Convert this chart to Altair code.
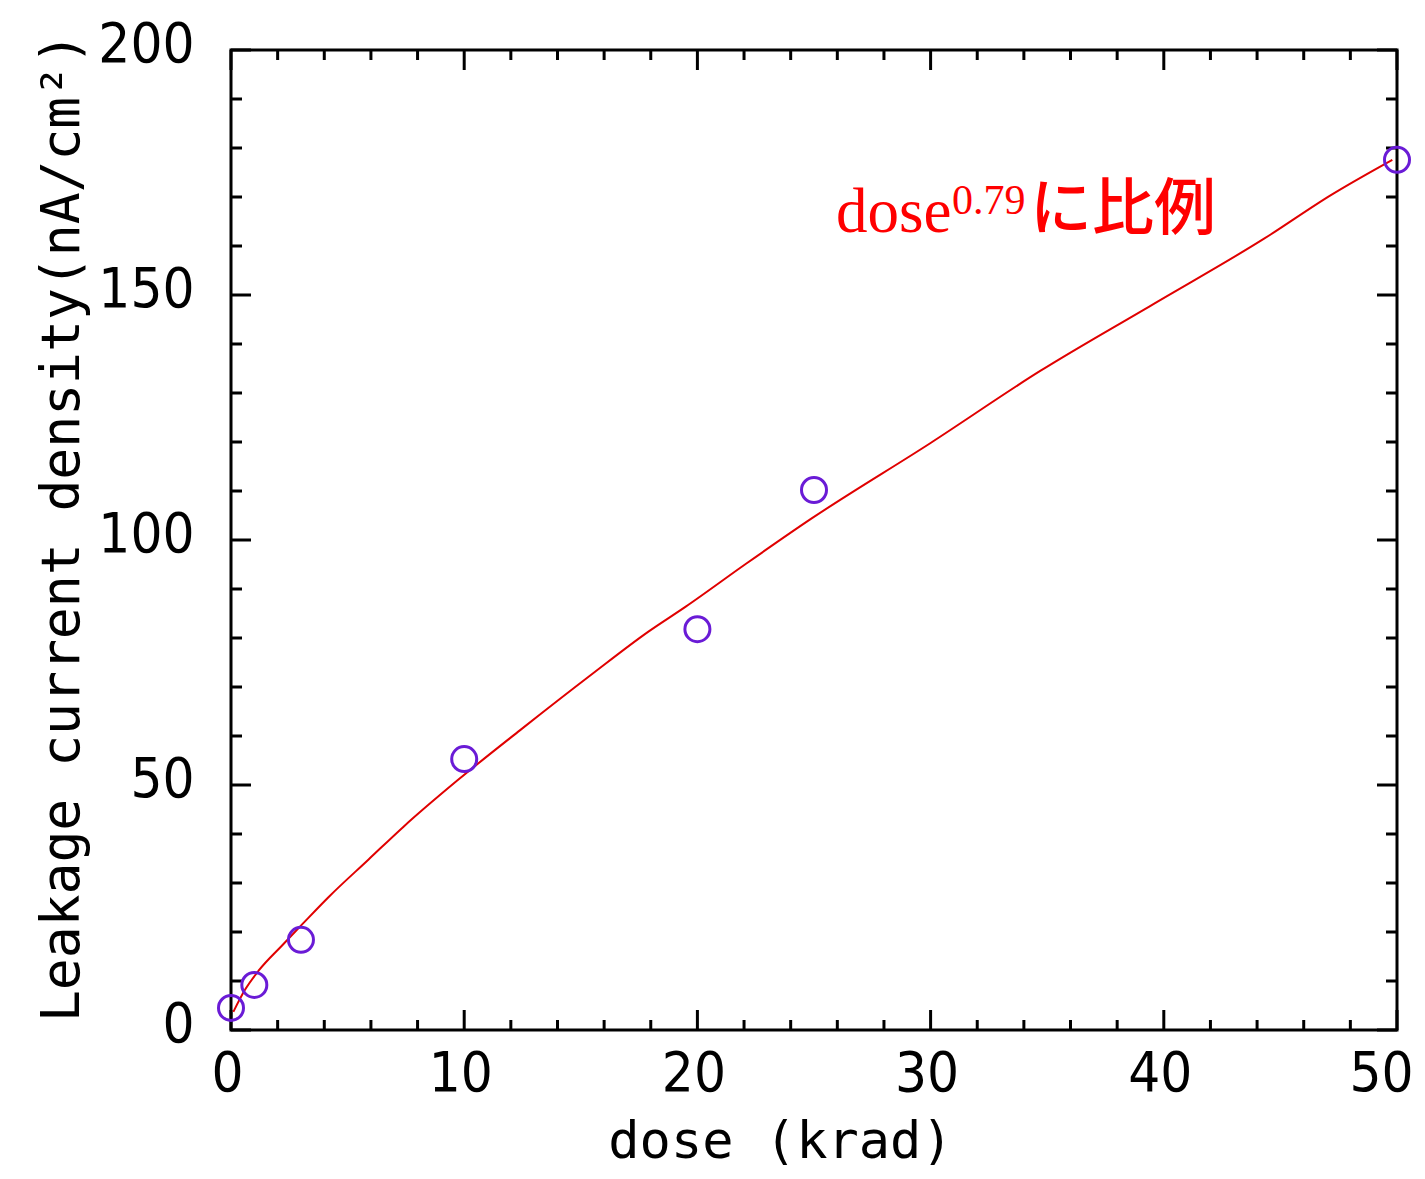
import altair as alt
import pandas as pd

# scatter data
dose_pts = [0, 1, 3, 10, 20, 25, 50]
leak_pts = [4.5, 9.2, 18.4, 55.3, 81.8, 110.2, 177.6]

# fitted curve
dose_fit = [0.1, 0.6, 1.2, 2.2, 3.1, 4.2, 5.9, 7.4, 9.7, 12.4, 15.5, 17.9, 19.5,
            22.1, 24.9, 30.0, 34.7, 39.5, 44.3, 47.2, 49.8]
leak_fit = [3.7, 8.2, 12.2, 17.3, 21.8, 27.2, 34.8, 41.5, 50.9, 61.2, 72.7, 81.3, 86.4,
            95.2, 104.4, 119.8, 134.5, 148.0, 161.5, 170.5, 177.6]

# axis ticks
x_major = [0, 10, 20, 30, 40, 50]
x_minor = [2, 4, 6, 8, 12, 14, 16, 18, 22, 24, 26, 28, 32, 34, 36, 38, 42, 44, 46, 48]
y_major = [0, 50, 100, 150, 200]
y_minor = [10, 20, 30, 40, 60, 70, 80, 90, 110, 120, 130, 140, 160, 170, 180, 190]

x_title = "dose (krad)"
y_title = "Leakage current density(nA/cm²)"
annot_main = ["dose"]
annot_sup = ["0.79"]
annot_jp = ["に比例"]

W, H = 1166, 980
LABEL_FONT = "'DejaVu Sans Condensed', 'DejaVu Sans', sans-serif"
TITLE_FONT = "DejaVu Sans Mono"
RED = "#E00000"
PURPLE = "#6A1BD6"

xs = alt.Scale(domain=[0, 50], nice=False, zero=False)
ys = alt.Scale(domain=[0, 200], nice=False, zero=False)

df_pts = pd.DataFrame({"dose": dose_pts, "leak": leak_pts})
df_fit = pd.DataFrame({"dose": dose_fit, "leak": leak_fit})

x_axis = alt.Axis(
    values=x_major, format="d", ticks=False, tickSize=0, domain=False, grid=False,
    labelFont=LABEL_FONT, labelFontSize=56, labelColor="black",
    labelBaseline="alphabetic", labelPadding=60,
    labelOffset={"condition": {"test": "datum.value == 50", "value": -16}, "value": -4},
    labelFlush=False, labelOverlap=False,
    title=x_title, titleFont=TITLE_FONT, titleFontSize=52, titleFontWeight="normal",
    titleColor="black", titleX=549, titleY=127, titleAlign="center",
    titleBaseline="alphabetic", titleAngle=0,
)
y_axis = alt.Axis(
    values=y_major, format="d", ticks=False, tickSize=0, domain=False, grid=False,
    labelFont=LABEL_FONT, labelFontSize=56, labelColor="black",
    labelBaseline="alphabetic", labelPadding=37, labelOffset=11, labelAlign="right",
    labelFlush=False, labelOverlap=False,
    title=y_title, titleFont=TITLE_FONT, titleFontSize=53, titleFontWeight="normal",
    titleColor="black", titleX=-153, titleY=477, titleAlign="center",
    titleBaseline="alphabetic", titleAngle=270,
)

fit = alt.Chart(df_fit).mark_line(color=RED, strokeWidth=2, interpolate="monotone").encode(
    x=alt.X("dose:Q", scale=xs, axis=x_axis),
    y=alt.Y("leak:Q", scale=ys, axis=y_axis),
)

pts = alt.Chart(df_pts).mark_point(
    shape="circle", filled=False, size=625, strokeWidth=3, color=PURPLE, opacity=1
).encode(
    x=alt.X("dose:Q", scale=xs, axis=x_axis),
    y=alt.Y("leak:Q", scale=ys, axis=y_axis),
)

def xticks(vals, length):
    d = pd.DataFrame({"dose": vals})
    bottom = alt.Chart(d).mark_rule(color="black", strokeWidth=3).encode(
        x=alt.X("dose:Q", scale=xs, axis=x_axis), y=alt.value(H), y2=alt.value(H - length))
    top = alt.Chart(d).mark_rule(color="black", strokeWidth=3).encode(
        x=alt.X("dose:Q", scale=xs, axis=x_axis), y=alt.value(0), y2=alt.value(length))
    return [bottom, top]

def yticks(vals, length):
    d = pd.DataFrame({"leak": vals})
    left = alt.Chart(d).mark_rule(color="black", strokeWidth=3).encode(
        y=alt.Y("leak:Q", scale=ys, axis=y_axis), x=alt.value(0), x2=alt.value(length))
    right = alt.Chart(d).mark_rule(color="black", strokeWidth=3).encode(
        y=alt.Y("leak:Q", scale=ys, axis=y_axis), x=alt.value(W), x2=alt.value(W - length))
    return [left, right]

tick_layers = xticks(x_major, 20) + xticks(x_minor, 10) + yticks(y_major, 20) + yticks(y_minor, 11)

t1 = alt.Chart(pd.DataFrame({"t": annot_main})).mark_text(
    font="Liberation Serif", fontSize=63, color="#FF0000", align="left", baseline="alphabetic"
).encode(text="t:N", x=alt.value(605), y=alt.value(182))
t2 = alt.Chart(pd.DataFrame({"t": annot_sup})).mark_text(
    font="Liberation Serif", fontSize=42, color="#FF0000", align="left", baseline="alphabetic"
).encode(text="t:N", x=alt.value(721), y=alt.value(164))
t3 = alt.Chart(pd.DataFrame({"t": annot_jp})).mark_text(
    font="Noto Sans CJK JP", fontSize=62, fontWeight=500, color="#FF0000", align="left",
    baseline="alphabetic"
).encode(text="t:N", x=alt.value(799), y=alt.value(180))

chart = alt.layer(*tick_layers, fit, pts, t1, t2, t3).properties(
    width=W, height=H,
    background="white",
    autosize=alt.AutoSizeParams(type="none"),
    padding={"left": 223, "top": 42, "right": 20, "bottom": 141},
).configure_view(stroke="black", strokeWidth=3)

chart.save("out.html", embed_options={"renderer": "svg", "actions": False})
